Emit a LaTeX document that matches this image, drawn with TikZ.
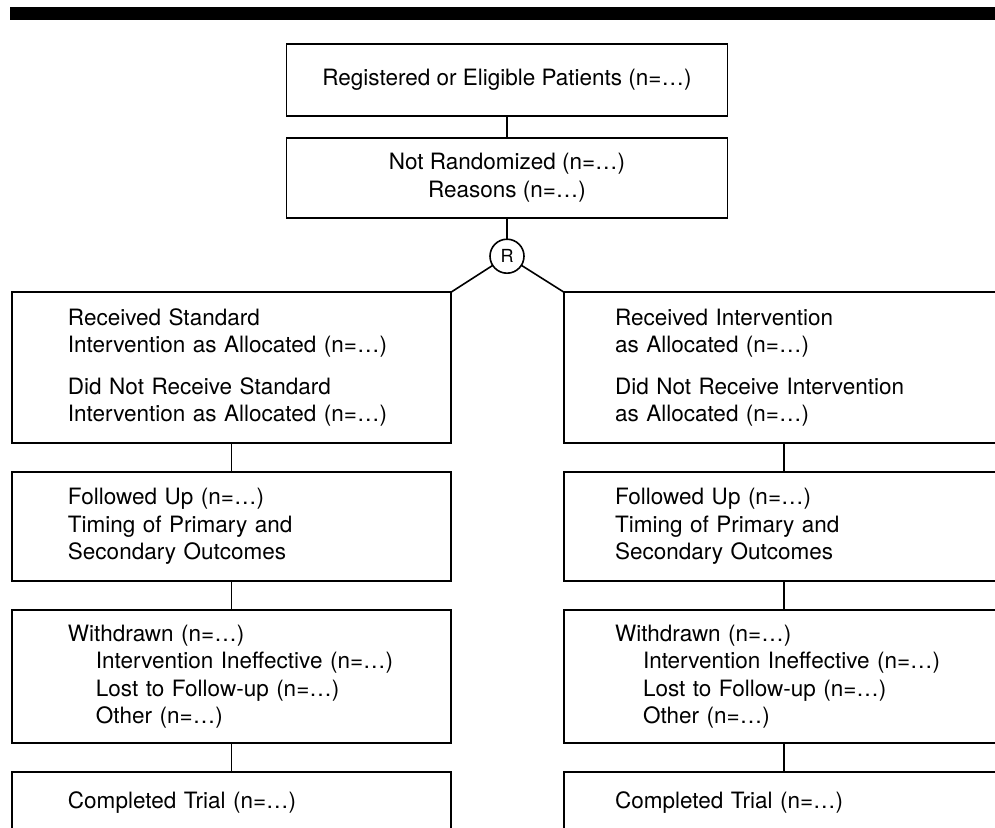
\documentclass[tikz,border=0pt]{standalone}
\usepackage{fontspec}
\setmainfont{TeX Gyre Heros}
\usetikzlibrary{positioning}

\begin{document}
\begin{tikzpicture}[x=1pt, y=-1pt,
        flowbox/.style={rectangle, draw=black, line width=1.6pt, outer sep=0pt, inner ysep=0pt, font=\fontsize{22.5}{27.5}\selectfont},
        centerbox/.style={flowbox, align=center, minimum width=441pt},
        leftbox/.style={flowbox, align=left, inner xsep=56pt, text width=327pt},
        rightbox/.style={flowbox, align=left, inner xsep=51pt, text width=338pt},
        randnode/.style={circle, draw=black, line width=1.6pt, outer sep=0pt, inner sep=0pt, minimum size=34pt, font=\fontsize{18}{20}\selectfont},
        link/.style={line width=1.6pt},
]
        \useasboundingbox (0,0) rectangle (995,827);
        \clip (0,0) rectangle (995,827);
        \fill (10,7) rectangle (995,20);

        \node[centerbox, minimum height=72pt] (top) at (507,79.7) {Registered or Eligible Patients (n=\dots)};
        \node[centerbox, minimum height=80pt] (notrand) [below=22pt of top] {Not Randomized (n=\dots)\\Reasons (n=\dots)};
        \node[randnode] (rand) [below=21.5pt of notrand] {R};

        \node[leftbox, minimum height=151pt] (leftrec) [below left=24pt and 44pt of rand] {Received Standard\\Intervention as Allocated (n=\dots)\\[14pt]Did Not Receive Standard\\Intervention as Allocated (n=\dots)};
        \node[leftbox, minimum height=109pt] (leftfol) [below=29pt of leftrec] {Followed Up (n=\dots)\\Timing of Primary and\\Secondary Outcomes};
        \node[leftbox, minimum height=133pt] (leftwd) [below=29pt of leftfol] {Withdrawn (n=\dots)\\\hspace*{28pt}Intervention Ineffective (n=\dots)\\\hspace*{28pt}Lost to Follow-up (n=\dots)\\\hspace*{28pt}Other (n=\dots)};
        \node[leftbox, minimum height=60pt] (leftdone) [below=29pt of leftwd] {Completed Trial (n=\dots)};

        \node[rightbox, minimum height=151pt] (rightrec) [below right=24pt and 45pt of rand] {Received Intervention\\as Allocated (n=\dots)\\[14pt]Did Not Receive Intervention\\as Allocated (n=\dots)};
        \node[rightbox, minimum height=109pt] (rightfol) [below=29pt of rightrec] {Followed Up (n=\dots)\\Timing of Primary and\\Secondary Outcomes};
        \node[rightbox, minimum height=133pt] (rightwd) [below=29pt of rightfol] {Withdrawn (n=\dots)\\\hspace*{28pt}Intervention Ineffective (n=\dots)\\\hspace*{28pt}Lost to Follow-up (n=\dots)\\\hspace*{28pt}Other (n=\dots)};
        \node[rightbox, minimum height=60pt] (rightdone) [below=29pt of rightwd] {Completed Trial (n=\dots)};

        \draw[link] (top) -- (notrand);
        \draw[link] (notrand) -- (rand);
        \draw[link] (rand) -- (leftrec.north east);
        \draw[link] (rand) -- (rightrec.north west);
        \draw[link] (leftrec) -- (leftfol);
        \draw[link] (leftfol) -- (leftwd);
        \draw[link] (leftwd) -- (leftdone);
        \draw[link] (rightrec) -- (rightfol);
        \draw[link] (rightfol) -- (rightwd);
        \draw[link] (rightwd) -- (rightdone);
    \end{tikzpicture}
\end{document}
